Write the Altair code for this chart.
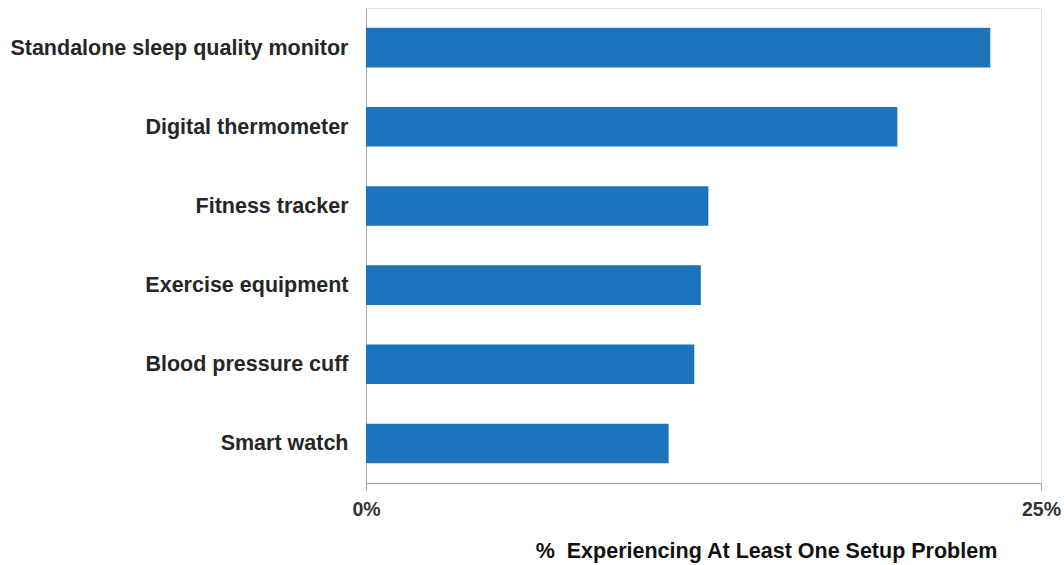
import altair as alt
import pandas as pd

categories = [
    "Standalone sleep quality monitor",
    "Digital thermometer",
    "Fitness tracker",
    "Exercise equipment",
    "Blood pressure cuff",
    "Smart watch",
]
values = [0.2312, 0.1968, 0.1268, 0.1240, 0.1216, 0.1121]

df = pd.DataFrame({"device": categories, "share": values})

FONT = "Liberation Sans"

chart = (
    alt.Chart(df)
    .mark_bar(color="#1c75bc")
    .encode(
        x=alt.X(
            "share:Q",
            scale=alt.Scale(domain=[0, 0.25], nice=False),
            axis=alt.Axis(
                values=[0, 0.25],
                format=".0%",
                grid=False,
                domainColor="#a6a6a6",
                tickColor="#a6a6a6",
                tickSize=7,
                labelFont=FONT,
                labelFontSize=19.5,
                labelFontWeight="bold",
                labelColor="#333333",
                labelPadding=10,
                labelFlush=False,
                labelAlign="center",
                title="%\u00a0 Experiencing At Least One Setup Problem",
                titleFont=FONT,
                titleFontSize=21.5,
                titleFontWeight="bold",
                titleColor="#111111",
                titleX=400,
                titleY=68,
                titleAnchor="start",
                titleAlign="center",
                titleBaseline="middle",
            ),
        ),
        y=alt.Y(
            "device:N",
            sort=categories,
            scale=alt.Scale(paddingInner=0.5, paddingOuter=0.25),
            axis=alt.Axis(
                title=None,
                ticks=False,
                domainColor="#a6a6a6",
                labelFont=FONT,
                labelFontSize=21.5,
                labelFontWeight="bold",
                labelColor="#262626",
                labelPadding=18,
                labelOffset=1,
                labelLimit=400,
            ),
        ),
    )
    .properties(
        width=675,
        height=475,
        autosize=alt.AutoSizeParams(type="none"),
        padding={"left": 366, "top": 8, "right": 23, "bottom": 82},
    )
    .configure_view(stroke=None)
    .configure(background="white")
)

chart.save("out.html", embed_options={"renderer": "svg", "actions": False})
